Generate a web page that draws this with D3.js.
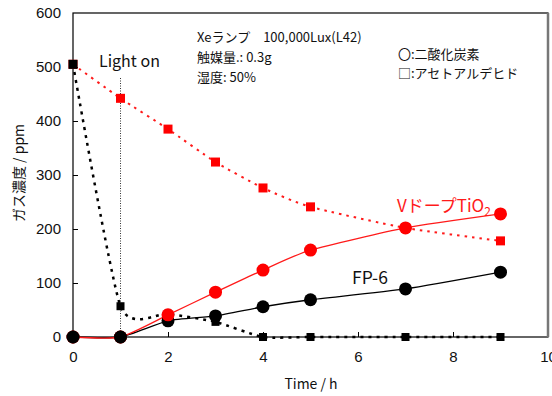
<!DOCTYPE html>
<html>
<head>
<meta charset="utf-8">
<script src="https://cdn.jsdelivr.net/npm/d3@7"></script>
<style>
  html, body { margin: 0; padding: 0; background: #fff; }
  svg { display: block; font-family: "Noto Sans CJK JP", "Noto Sans", sans-serif; }
</style>
</head>
<body>
<svg id="chart" width="552" height="396"></svg>
<script>
// Sampling times (h)
const times = [0, 1, 2, 3, 4, 5, 7, 9];
// V-doped TiO2: CO2 and acetaldehyde (ppm)
const vTiO2CO2 = [0, 0, 41, 83, 124, 161, 202, 228];
const vTiO2Acet = [505, 442, 385, 324, 276, 241, 202, 178];
// FP-6: CO2 and acetaldehyde (ppm)
const fp6CO2 = [0, 0, 30, 39, 56, 69, 89, 120];
const fp6Acet = [505, 57, 43, 28, 0, 0, 0, 0];
// Axis ticks
const xTicks = [0, 2, 4, 6, 8, 10];
const yTicks = [0, 100, 200, 300, 400, 500, 600];

const svg = d3.select("#chart");
const m = { left: 73, right: 548, top: 13, bottom: 337 };

const x = d3.scaleLinear().domain([0, 10]).range([m.left, m.right]);
const y = d3.scaleLinear().domain([0, 600]).range([m.bottom, m.top]);

// Frame
svg.append("rect")
  .attr("x", m.left).attr("y", m.top)
  .attr("width", m.right - m.left).attr("height", m.bottom - m.top)
  .attr("fill", "none").attr("stroke", "#000").attr("stroke-width", 1.2);
svg.append("line")
  .attr("x1", m.right).attr("x2", m.right).attr("y1", m.top).attr("y2", m.bottom)
  .attr("stroke", "#777").attr("stroke-width", 2.5);

// Axes with inward ticks
const xAxis = svg.append("g").attr("transform", `translate(0,${m.bottom})`)
  .call(d3.axisBottom(x).tickValues(xTicks).tickSizeInner(-5).tickSizeOuter(0).tickPadding(14));
const yAxis = svg.append("g").attr("transform", `translate(${m.left},0)`)
  .call(d3.axisLeft(y).tickValues(yTicks).tickSizeInner(-5).tickSizeOuter(0).tickPadding(12));
[xAxis, yAxis].forEach(g => {
  g.select(".domain").remove();
  g.selectAll("text").attr("font-size", 15).attr("fill", "#111")
    .attr("font-family", "'Liberation Sans', Arial, sans-serif");
  g.selectAll("line").attr("stroke", "#000");
});
xAxis.selectAll(".tick").filter(d => d === 0 || d === 10).select("line").remove();
yAxis.selectAll(".tick").filter(d => d === 0 || d === 600).select("line").remove();

// Axis titles
svg.append("text").attr("x", 311).attr("y", 389).attr("text-anchor", "middle")
  .attr("font-size", 14).attr("fill", "#111").text("Time / h");
svg.append("text")
  .attr("transform", `translate(24,173) rotate(-90)`)
  .attr("text-anchor", "middle").attr("font-size", 14).attr("fill", "#111")
  .text("ガス濃度 / ppm");

// Light-on marker
svg.append("line")
  .attr("x1", x(1)).attr("x2", x(1)).attr("y1", 78).attr("y2", m.bottom)
  .attr("stroke", "#333").attr("stroke-width", 1).attr("stroke-dasharray", "1,1.5");
svg.append("text").attr("x", 99).attr("y", 67).attr("font-size", 16).attr("fill", "#111")
  .text("Light on");

const line = d3.line().x((d, i) => x(times[i])).y(d => y(d)).curve(d3.curveCardinal.tension(0.4));

function series(vals, color, dash, width) {
  svg.append("path").datum(vals).attr("d", line)
    .attr("fill", "none").attr("stroke", color).attr("stroke-width", width)
    .attr("stroke-dasharray", dash);
}
function circles(vals, color) {
  svg.append("g").selectAll("circle").data(vals).join("circle")
    .attr("cx", (d, i) => x(times[i])).attr("cy", d => y(d)).attr("r", 6.5)
    .attr("fill", color);
}
function squares(vals, color, s) {
  svg.append("g").selectAll("rect").data(vals).join("rect")
    .attr("x", (d, i) => x(times[i]) - s / 2).attr("y", d => y(d) - s / 2)
    .attr("width", s).attr("height", s).attr("fill", color);
}

series(vTiO2Acet, "#ff1a1a", "2.5,5", 2);
series(fp6Acet, "#000", "3,5", 2.5);
series(fp6CO2, "#000", null, 1.3);
series(vTiO2CO2, "#ff1a1a", null, 1.3);

squares(vTiO2Acet, "#ff0000", 9);
squares(fp6Acet, "#000", 8);
circles(fp6CO2, "#000");
circles(vTiO2CO2, "#ff0000");
// Overlapping start points drawn in black
squares([fp6Acet[0]], "#000", 9);
circles([fp6CO2[0], fp6CO2[1]], "#000");

// Series labels
const red = svg.append("text").attr("x", 397).attr("y", 212).attr("font-size", 17).attr("fill", "#ff1a1a");
red.append("tspan").text("VドープTiO");
red.append("tspan").attr("font-size", 12).attr("dy", 4).text("2");
svg.append("text").attr("x", 352).attr("y", 284).attr("font-size", 17.5).attr("fill", "#111").text("FP-6");

// Condition notes
const notes = ["Xeランプ　100,000Lux(L42)", "触媒量.: 0.3g", "湿度: 50%"];
svg.append("g").selectAll("text").data(notes).join("text")
  .attr("x", 197).attr("y", (d, i) => 42 + i * 20).attr("font-size", 13).attr("fill", "#111")
  .text(d => d);

// Symbol legend
const legend = ["〇:二酸化炭素", "□:アセトアルデヒド"];
svg.append("g").selectAll("text").data(legend).join("text")
  .attr("x", 398).attr("y", (d, i) => 59 + i * 19).attr("font-size", 13).attr("fill", "#111")
  .text(d => d);
</script>
</body>
</html>
